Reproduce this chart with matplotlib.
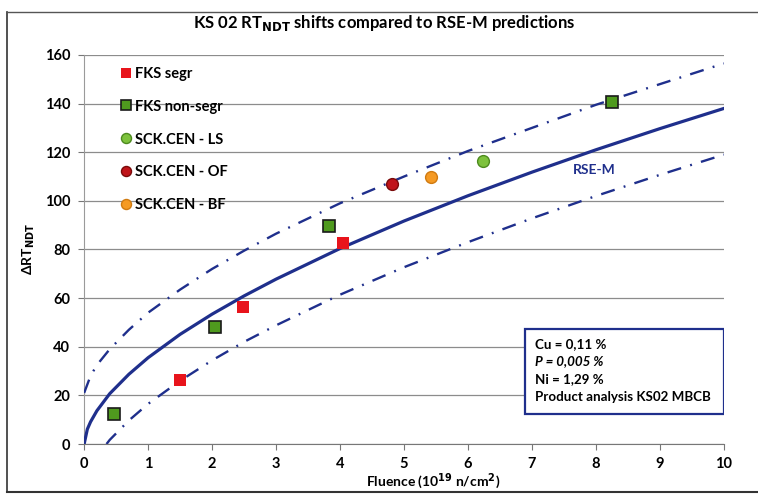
import matplotlib.pyplot as plt
import matplotlib.ticker as tick
from matplotlib.patches import Rectangle

plt.rcParams['font.family'] = ['Lato', 'DejaVu Sans']
plt.rcParams['font.weight'] = 'bold'

# measured points
fks_segr_x = [1.5, 2.49, 4.04]
fks_segr_y = [26.3, 56.3, 82.6]
fks_nonsegr_x = [0.47, 2.04, 3.82, 8.25]
fks_nonsegr_y = [12.3, 48.1, 89.7, 140.7]
sck_ls_x = [6.23]
sck_ls_y = [116.2]
sck_of_x = [4.82]
sck_of_y = [107.0]
sck_bf_x = [5.42]
sck_bf_y = [110.0]

# RSE-M prediction curve and bounds
rsem_x = [0, 0.05, 0.1, 0.2, 0.4, 0.7, 1, 1.5, 2, 2.5, 3, 4, 5, 6, 7, 8, 9, 10]
rsem_y = [0, 6.1, 9.1, 13.7, 20.7, 28.7, 35.5, 45.1, 53.4, 60.9, 67.8, 80.4, 91.7, 102.1, 111.8, 121.0, 129.7, 138.0]
upper_x = [0, 0.1, 0.2, 0.4, 0.7, 1, 1.5, 2, 2.5, 3, 4, 5, 6, 7, 8, 9, 10]
upper_y = [21, 28, 32.5, 39, 47, 54, 63.5, 72, 79.5, 86.5, 99, 110, 120.5, 130, 139.5, 148, 156.5]
lower_x = [0.35, 0.4, 0.7, 1, 1.5, 2, 2.5, 3, 4, 5, 6, 7, 8, 9, 10]
lower_y = [0, 1.7, 9.7, 16.5, 26, 34.4, 42, 48.8, 61.4, 72.7, 83, 92.8, 102, 110.7, 119]

navy = '#1f2f8c'

fig = plt.figure(figsize=(7.58, 4.95), dpi=100)
ax = fig.add_axes([0.111, 0.103, 0.844, 0.786])

# outer frame of the scanned chart
fig.add_artist(plt.Line2D([0.009, 0.009], [0.006, 0.976], color='#333333', lw=1.2, transform=fig.transFigure))
fig.add_artist(plt.Line2D([0.009, 1.0], [0.976, 0.976], color='#555555', lw=1.0, transform=fig.transFigure))
fig.add_artist(plt.Line2D([0.009, 1.0], [0.006, 0.006], color='#333333', lw=1.5, transform=fig.transFigure))

dashdot = (0, (6, 4, 0.8, 4))
ax.plot(rsem_x, rsem_y, color=navy, lw=2.3, zorder=3)
ax.plot(upper_x, upper_y, color=navy, lw=1.7, linestyle=dashdot, zorder=3)
ax.plot(lower_x, lower_y, color=navy, lw=1.7, linestyle=dashdot, zorder=3)

ax.plot(fks_segr_x, fks_segr_y, 's', color='#e8141c', markersize=9, markeredgewidth=0, label='FKS segr', zorder=4)
ax.plot(fks_nonsegr_x, fks_nonsegr_y, 's', color='#4f9a1e', markeredgecolor='#1a1a1a', markersize=8.5, markeredgewidth=1.2, label='FKS non-segr', zorder=4)
ax.plot(sck_ls_x, sck_ls_y, 'o', color='#7dc23c', markeredgecolor='#4d8a1e', markersize=8.5, label='SCK.CEN - LS', zorder=4)
ax.plot(sck_of_x, sck_of_y, 'o', color='#c0141a', markeredgecolor='#7a0a0a', markersize=8.5, label='SCK.CEN - OF', zorder=4)
ax.plot(sck_bf_x, sck_bf_y, 'o', color='#f59a23', markeredgecolor='#d07a10', markersize=8.5, label='SCK.CEN - BF', zorder=4)

ax.text(7.97, 112.8, 'RSE-M', color=navy, fontsize=10, fontweight='bold', ha='center', va='center')

ax.set_xlim(0, 10)
ax.set_ylim(0, 160)
ax.xaxis.set_major_locator(tick.MultipleLocator(1))
ax.yaxis.set_major_locator(tick.MultipleLocator(20))
ax.grid(True, axis='y', color='#8c8c8c', lw=0.9)
ax.set_axisbelow(True)
for s in ['top', 'right']:
    ax.spines[s].set_visible(False)
ax.spines['left'].set_color('#9a9a9a')
ax.spines['bottom'].set_color('#777777')
ax.tick_params(axis='both', colors='#777777', labelcolor='black', labelsize=10.5, length=4)
ax.tick_params(axis='x', pad=5)
ax.tick_params(axis='y', pad=6)

fig.text(0.507, 0.953, 'KS 02 RT$_{\\mathbf{NDT}}$ shifts compared to RSE-M predictions', fontsize=12,
         fontweight='bold', ha='center', va='center')
ax.set_ylabel('ΔRT$_{\\mathbf{NDT}}$', fontsize=10, fontweight='bold')
ax.yaxis.set_label_coords(-0.073, 0.5)
ax.set_xlabel('Fluence (10$^{\\mathbf{19}}$ n/cm$^{\\mathbf{2}}$)', fontsize=10, fontweight='bold')
ax.xaxis.set_label_coords(0.545, -0.07)

leg = ax.legend(loc='upper left', bbox_to_anchor=(0.045, 0.985), frameon=False, fontsize=10.5,
                labelspacing=1.3, handletextpad=0.1, handlelength=1.0, borderaxespad=0, markerscale=0.85)

# composition box
ax.add_patch(Rectangle((0.689, 0.077), 0.311, 0.218, transform=ax.transAxes, fill=True,
                       facecolor='white', edgecolor=navy, lw=1.6, zorder=5))
box_lines = ['Cu = 0,11 %', 'P = 0,005 %', 'Ni = 1,29 %', 'Product analysis KS02 MBCB']
box_styles = ['normal', 'italic', 'normal', 'normal']
for i, (txt, st) in enumerate(zip(box_lines, box_styles)):
    ax.text(0.704, 0.258 - i * 0.046, txt, transform=ax.transAxes, fontsize=9.6, fontweight='bold',
            fontstyle=st, va='center', ha='left', zorder=6)

fig.savefig('out.png', dpi=100)
